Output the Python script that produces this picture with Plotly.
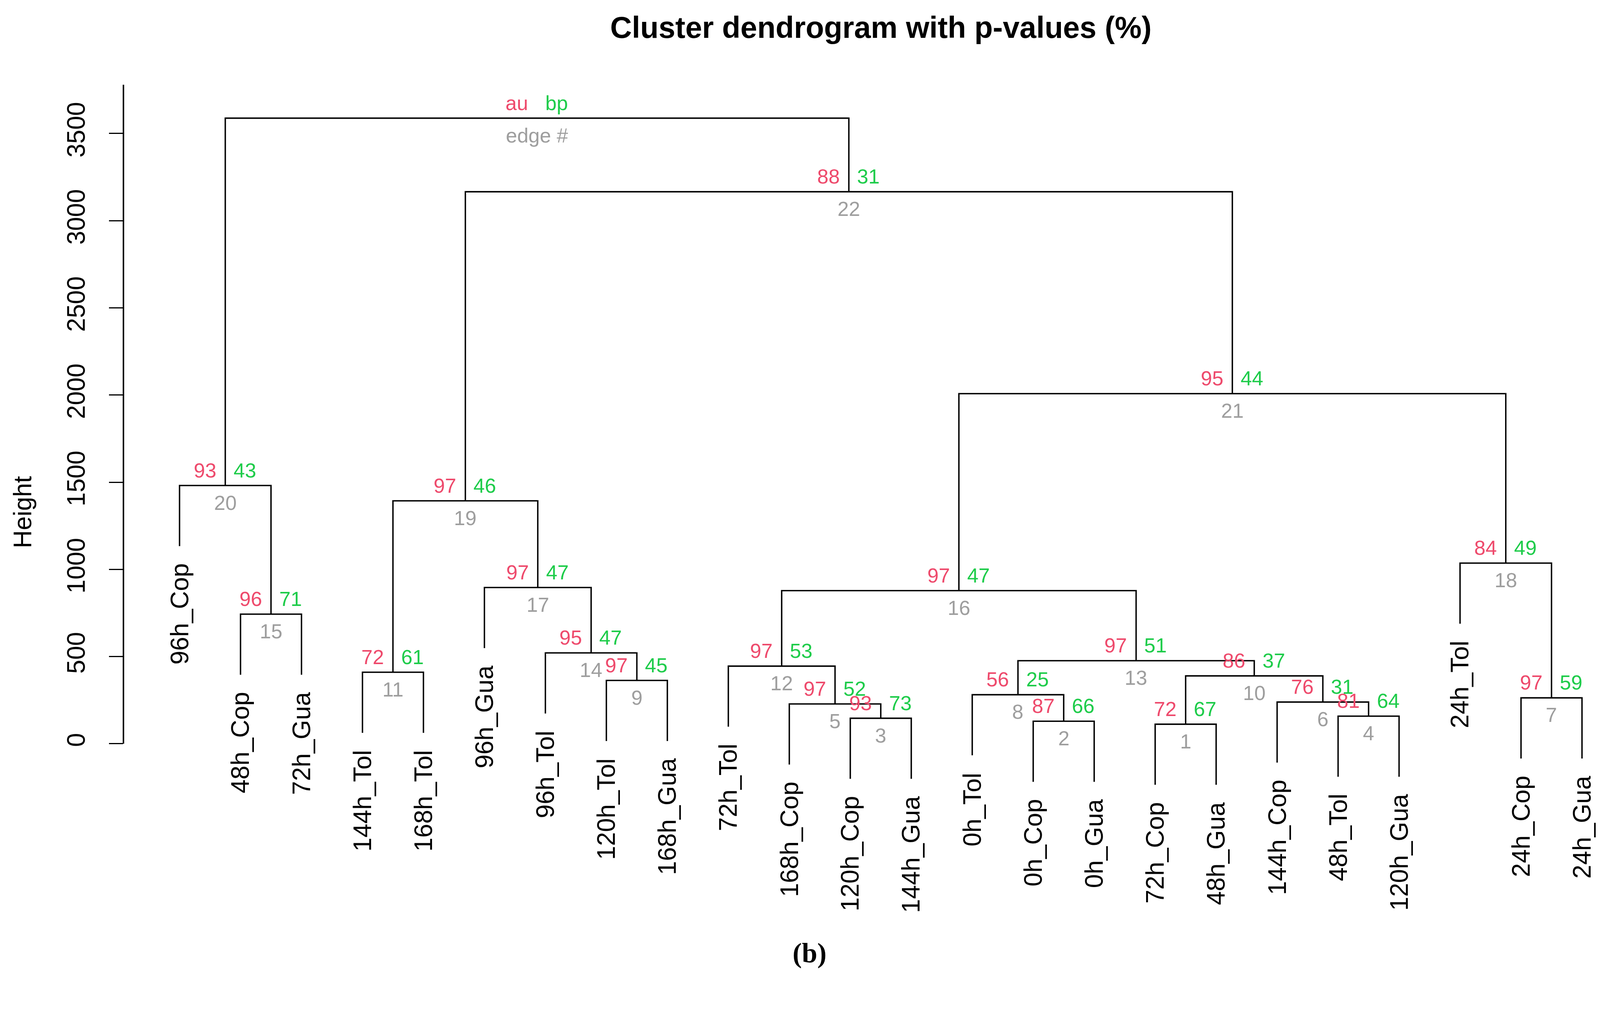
import plotly.graph_objects as go

# ---------------- data ----------------
labels = ["96h_Cop", "48h_Cop", "72h_Gua", "144h_Tol", "168h_Tol", "96h_Gua",
          "96h_Tol", "120h_Tol", "168h_Gua", "72h_Tol", "168h_Cop", "120h_Cop",
          "144h_Gua", "0h_Tol", "0h_Cop", "0h_Gua", "72h_Cop", "48h_Gua",
          "144h_Cop", "48h_Tol", "120h_Gua", "24h_Tol", "24h_Cop", "24h_Gua"]

# hclust-style merge matrix: negative = leaf (position in order), positive = earlier merge
merge_left = [-17, -15, -12, -20, -11, -19, -23, -14, -8, 1, -4, -10, 8, -7, -2, 12, -6, -22, 11, -1, 16, 19, 20]
merge_right = [-18, -16, -13, -21, 3, 4, -24, 2, -9, 6, -5, 5, 10, 9, -3, 13, 14, 7, 17, 15, 18, 21, 22]
heights = [112, 129, 146, 158, 228, 239, 263, 281, 363, 389, 410, 445, 476, 521,
           743, 878, 896, 1036, 1393, 1481, 2008, 3166, 3588]

au = [72, 87, 93, 81, 97, 76, 97, 56, 97, 86, 72, 97, 97, 95, 96, 97, 97, 84, 97, 93, 95, 88]
bp = [67, 66, 73, 64, 52, 31, 59, 25, 45, 37, 61, 53, 51, 47, 71, 47, 47, 49, 46, 43, 44, 31]
root_texts = ["au", "bp", "edge #"]

ytick_vals = [0, 500, 1000, 1500, 2000, 2500, 3000, 3500]
ytick_text = ["0", "500", "1000", "1500", "2000", "2500", "3000", "3500"]

title_text = "Cluster dendrogram with p-values (%)"
ylabel_text = "Height"
panel_text = "(b)"

# ---------------- colours / fonts ----------------
COL_AU = "#EE4A6C"
COL_BP = "#1ECC4A"
COL_EDGE = "#9E9E9E"
FONT = "Liberation Sans, Arial, sans-serif"

# ---------------- dendrogram geometry ----------------
n = len(labels)
hang = 0.1 * (max(heights) - min(heights))
node_x = {}
leaf_end = {}
xs, ys = [], []

for k, (a, b) in enumerate(zip(merge_left, merge_right), start=1):
    h = heights[k - 1]
    pts = []
    for ref in (a, b):
        if ref < 0:
            x = -ref
            y0 = h - hang
            leaf_end[x] = y0
        else:
            x = node_x[ref]
            y0 = heights[ref - 1]
        pts.append((x, y0))
    (xl, yl), (xr, yr) = pts
    node_x[k] = (xl + xr) / 2.0
    xs += [xl, xl, xr, xr, None]
    ys += [yl, h, h, yr, None]

fig = go.Figure()
fig.add_trace(go.Scatter(x=xs, y=ys, mode="lines",
                         line=dict(color="black", width=3.6),
                         hoverinfo="skip", showlegend=False))

ann = []
# leaf labels
for i, lab in enumerate(labels, start=1):
    ann.append(dict(x=i, y=leaf_end[i], xref="x", yref="y", text=lab,
                    textangle=-90, xanchor="center", yanchor="top", yshift=-42,
                    showarrow=False, font=dict(family=FONT, size=64, color="black")))

# au / bp / edge numbers
n_merge = len(heights)
for k in range(1, n_merge + 1):
    x = node_x[k]
    h = heights[k - 1]
    if k < n_merge:
        t_au, t_bp, t_ed = str(au[k - 1]), str(bp[k - 1]), str(k)
    else:
        t_au, t_bp, t_ed = root_texts
    ann.append(dict(x=x, y=h, xref="x", yref="y", text=t_au, xanchor="right",
                    yanchor="middle", xshift=-21, yshift=39, showarrow=False,
                    font=dict(family=FONT, size=52, color=COL_AU)))
    ann.append(dict(x=x, y=h, xref="x", yref="y", text=t_bp, xanchor="left",
                    yanchor="middle", xshift=19, yshift=39, showarrow=False,
                    font=dict(family=FONT, size=52, color=COL_BP)))
    ann.append(dict(x=x, y=h, xref="x", yref="y", text=t_ed, xanchor="center",
                    yanchor="middle", yshift=-44, showarrow=False,
                    font=dict(family=FONT, size=52, color=COL_EDGE)))

# y label
ann.append(dict(x=-0.0655, y=1328, xref="paper", yref="y", text=ylabel_text,
                textangle=-90, xanchor="center", yanchor="middle", showarrow=False,
                font=dict(family=FONT, size=64, color="black")))
# panel label
ann.append(dict(x=0.4449, y=-0.194, xref="paper", yref="paper", text="<b>" + panel_text + "</b>",
                xanchor="center", yanchor="middle", showarrow=False,
                font=dict(family="Liberation Serif, Times New Roman, serif", size=71, color="black")))

fig.update_layout(
    width=4255, height=2592, autosize=False,
    margin=dict(l=308, r=0, t=200, b=521, pad=0),
    paper_bgcolor="white", plot_bgcolor="white",
    title=dict(text="<b>" + title_text + "</b>", x=2247 / 4255, xref="container",
               xanchor="center", y=1 - 62 / 2592, yref="container", yanchor="middle",
               font=dict(family=FONT, size=77, color="black")),
    xaxis=dict(range=[0.08, 0.08 + 3947 / 156.1], visible=False, showgrid=False, zeroline=False),
    yaxis=dict(range=[-390, 3800], tickvals=ytick_vals, ticktext=ytick_text,
               ticks="outside", ticklen=36, tickwidth=3.4, tickcolor="black",
               tickangle=-90, ticklabelstandoff=36,
               tickfont=dict(family=FONT, size=64, color="black"),
               showgrid=False, zeroline=False, showline=False),
    annotations=ann,
    shapes=[dict(type="line", xref="paper", yref="y", x0=0, x1=0, y0=0, y1=3780,
                 line=dict(color="black", width=3.8))],
)

fig.write_html("out.html")
